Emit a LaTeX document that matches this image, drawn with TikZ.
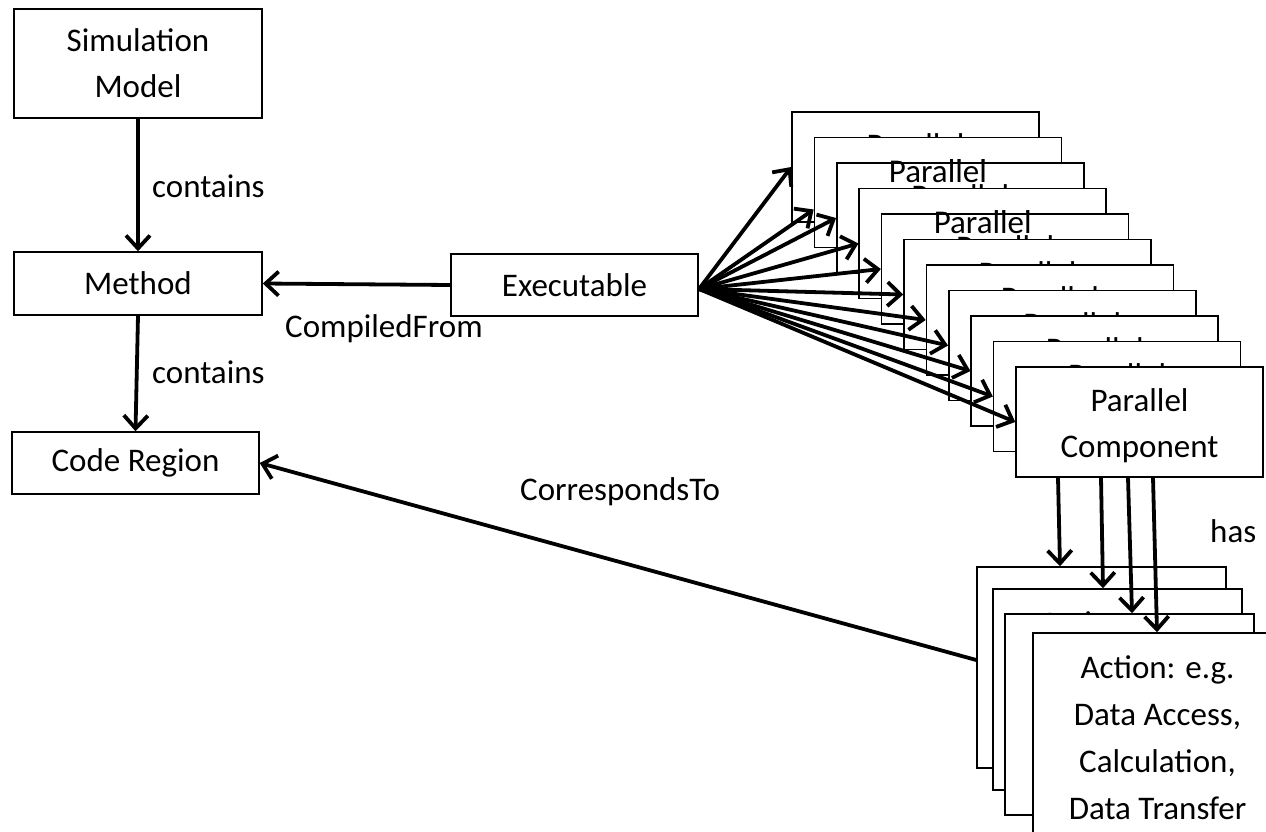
\documentclass[tikz,border=0pt]{standalone}
\usepackage{fontspec}
\setmainfont{Carlito}
\usetikzlibrary{arrows.meta}
\begin{document}
\begin{tikzpicture}[x=1pt,y=-1pt,
  every node/.style={font=\fontsize{33}{46}\selectfont},
  box/.style={draw, line width=1.5pt, fill=white, align=center, inner sep=0pt},
  pbox/.style={box, minimum width=247pt, minimum height=110pt},
  abox/.style={box, minimum width=249pt, minimum height=201pt},
  ptext/.style={align=center, inner sep=0pt},
  atext/.style={align=center, inner sep=0pt, font=\fontsize{33}{47}\selectfont},
  conn/.style={line width=3.8pt, -{Straight Barb[length=13pt,width=24pt,line width=3.8pt]}},
  lbl/.style={inner sep=0pt, anchor=base west}]
\useasboundingbox (0,0) rectangle (1266,832);
\clip (0,0) rectangle (1266,832);

% left column
\node[box, minimum width=248pt, minimum height=109pt] (sim) at (138,63.5) {Simulation\\Model};
\node[box, minimum width=248pt, minimum height=63pt] (meth) at (138,283.5) {Method};
\node[box, minimum width=247pt, minimum height=62pt] (code) at (135.5,463) {Code Region};
\node[box, minimum width=247pt, minimum height=62pt] (exe) at (574.5,285) {Executable};

% stack of parallel components, each one hiding most of the one behind
\foreach \i in {0,...,10}{
  \node[pbox] (p\i) at ({915.5+22.4*\i},{167+25.5*\i}) {};
  \node[ptext] (pl\i) at ([yshift=-4pt]p\i.center) {Parallel\\Component};
}
% first lines of two cards printed over the stack
\foreach \i in {1,3}
  \node[ptext] (pt\i) at ([yshift=-4pt]p\i.center) {Parallel\\\phantom{Component}};

% stack of actions
\foreach \n/\x/\y in {a1/1101.5/667.5, a2/1117.5/689.5, a3/1129.5/714.5, a4/1157.5/733.5}{
  \node[abox] (\n) at (\x,\y) {};
  \node[atext] (\n t) at ([yshift=-4pt]\n.center) {Action: e.g.\\Data Access,\\Calculation,\\Data Transfer};
}

% connectors
\draw[conn] (sim.south) -- (meth.north);
\draw[conn] (meth.south) -- (code.north);
\draw[conn] (exe.west) -- (meth.east);
\draw[conn] ([yshift=7.5pt]a1.west) -- (code.east);

\coordinate (hub) at (699,289);
\foreach \i in {0,2,3,...,10}
  \draw[conn] (hub) -- (p\i.west);
\draw[conn] (hub) -- ([yshift=-17pt]p1.west);

\draw[conn] ([xshift=-81.5pt]p10.south) -- ([xshift=-41.5pt]a1.north);
\draw[conn] ([xshift=-38.5pt]p10.south) -- ([xshift=-14.5pt]a2.north);
\draw[conn] ([xshift=-11.5pt]p10.south) -- ([xshift=2.5pt]a3.north);
\draw[conn] ([xshift=13.5pt]p10.south) -- ([xshift=-0.5pt]a4.north);

% labels
\node[lbl] (l1) at (152,197) {contains};
\node[lbl] (l2) at (152,383) {contains};
\node[lbl] (l3) at (285,337) {CompiledFrom};
\node[lbl] (l4) at (520,500) {CorrespondsTo};
\node[lbl] (l5) at (1210,542) {has};
\end{tikzpicture}
\end{document}
